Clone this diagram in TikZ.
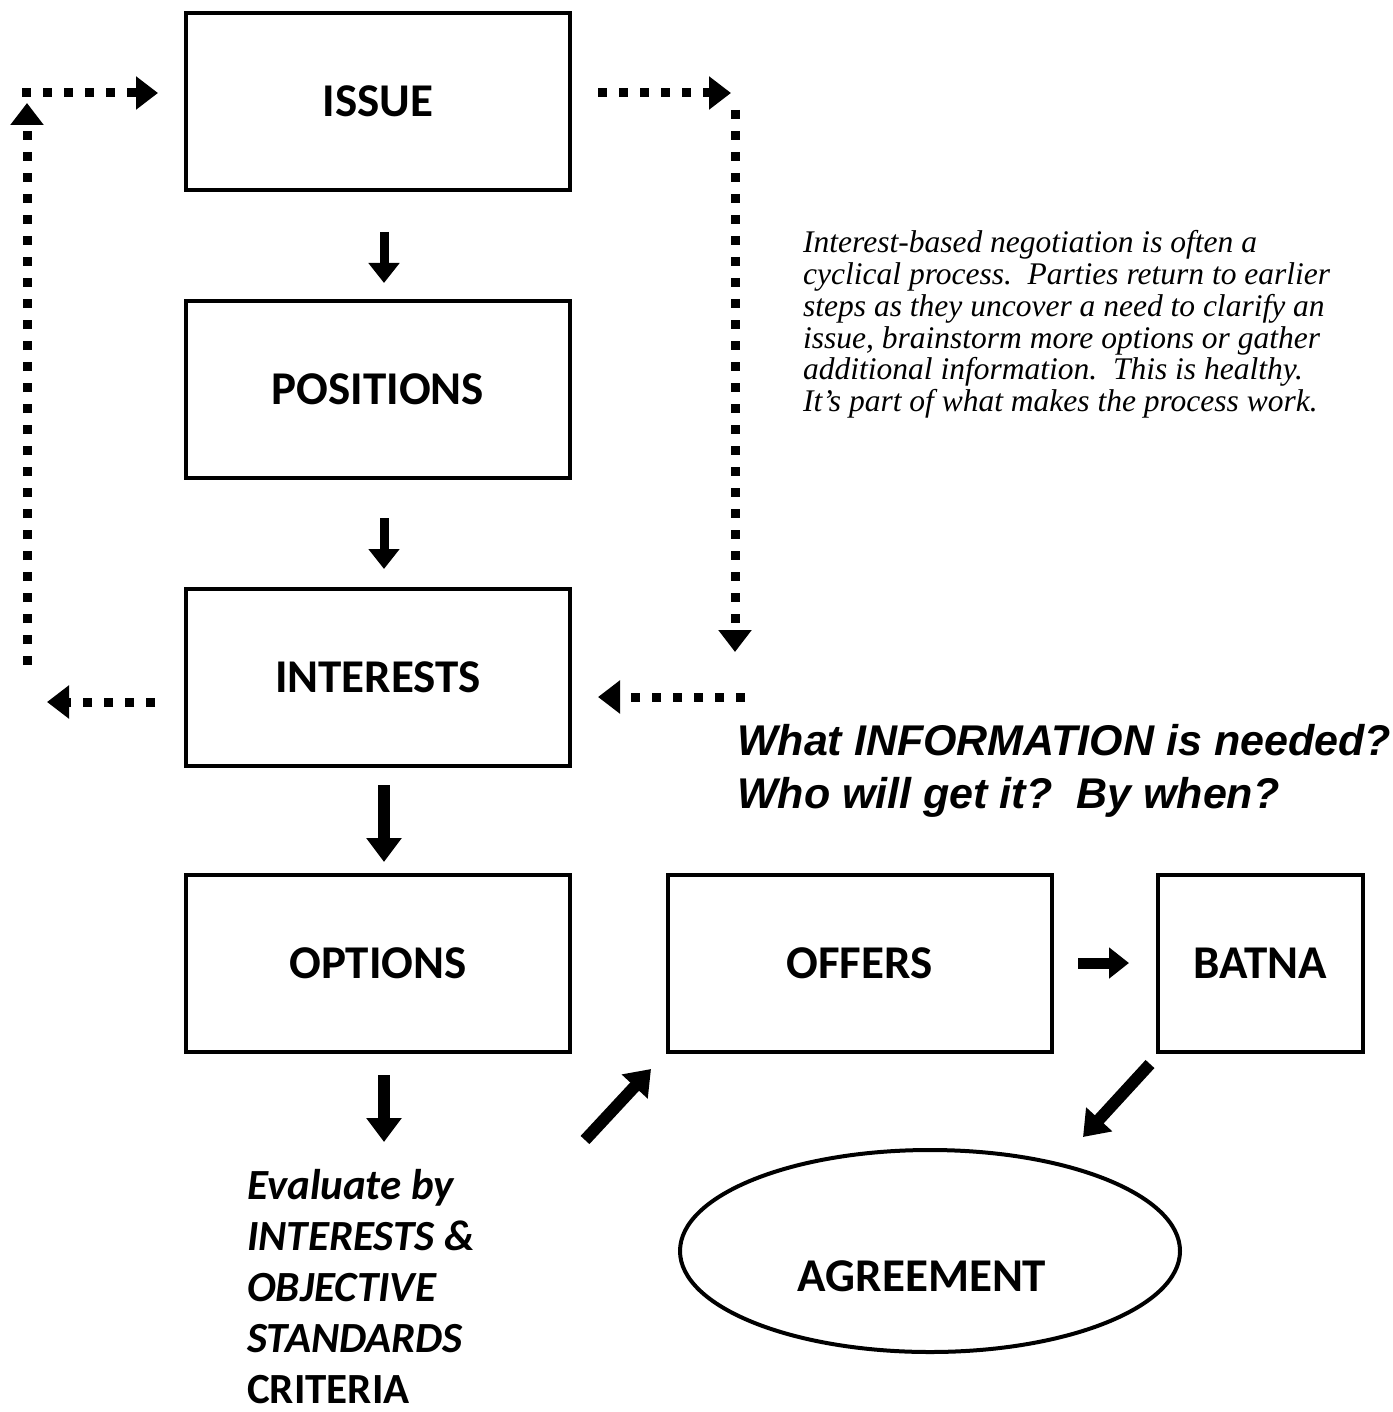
\documentclass[tikz,border=0pt]{standalone}
\usepackage{fontspec}
\setmainfont{Liberation Serif}
\newfontfamily\boxfont{Carlito}
\newfontfamily\headfont{Liberation Sans}
\usetikzlibrary{arrows.meta,shapes.geometric}
\begin{document}
\begin{tikzpicture}[x=1pt,y=-1pt,
  boxtext/.style={font=\boxfont\bfseries\fontsize{47}{56}\selectfont},
  stepbox/.style={draw,line width=4pt,minimum width=384pt,minimum height=177pt,inner sep=0pt,boxtext},
  flow/.style={line width=9pt,-{Triangle[width=30pt,length=20pt]}},
  bigflow/.style={line width=12pt,-{Triangle[width=34pt,length=24pt]}},
  loop/.style={line width=9pt,dash pattern=on 9pt off 12pt,-{Triangle[width=32pt,length=22pt]}}]
\useasboundingbox (0,0) rectangle (1392,1412);

% main column of steps
\node[stepbox] (issue) at (378,101.5) {ISSUE};
\node[stepbox] (positions) at (378,389.5) {POSITIONS};
\node[stepbox] (interests) at (378,677.5) {INTERESTS};
\node[stepbox] (options) at (378,963.5) {OPTIONS};
\node[stepbox] (offers) at (859.5,963.5) {OFFERS};
\node[stepbox,minimum width=205pt] (batna) at (1260.5,963.5) {BATNA};
\node[draw,line width=4pt,ellipse,minimum width=500pt,minimum height=202pt,inner sep=0pt] (agreement) at (930,1251) {};
\node[boxtext,inner sep=0pt] (agreementlabel) at (922,1276) {AGREEMENT};

% evaluation note under the options
\node[anchor=north west,align=left,inner sep=0pt,
  font=\boxfont\bfseries\fontsize{43}{51}\selectfont] (evaluate) at (247,1169)
  {\itshape Evaluate by\\ \itshape INTERESTS \&\\ \itshape OBJECTIVE\\ \itshape STANDARDS\\ CRITERIA};

% solid arrows between steps
\coordinate (a1s) at (384,232); \coordinate (a1e) at (384,283);
\coordinate (a2s) at (384,518); \coordinate (a2e) at (384,569);
\coordinate (a3s) at (384,785); \coordinate (a3e) at (384,862);
\coordinate (a4s) at (384,1075); \coordinate (a4e) at (384,1142);
\coordinate (a5s) at (1078,963); \coordinate (a5e) at (1129,963);
\coordinate (a6s) at (585,1140); \coordinate (a6e) at (651,1069);
\coordinate (a7s) at (1150,1064); \coordinate (a7e) at (1083,1137);
\draw[flow] (a1s) -- (a1e);
\draw[flow] (a2s) -- (a2e);
\draw[bigflow] (a3s) -- (a3e);
\draw[bigflow] (a4s) -- (a4e);
\draw[flow,line width=11pt] (a5s) -- (a5e);
\draw[bigflow] (a6s) -- (a6e);
\draw[bigflow] (a7s) -- (a7e);

% dotted return loops
\coordinate (l1) at (155,702); \coordinate (l2) at (47,702);
\coordinate (l3) at (27,665); \coordinate (l4) at (27,103);
\coordinate (l5) at (22,93); \coordinate (l6) at (158,93);
\draw[loop] (l1) -- (l2);
\draw[loop] (l3) -- (l4);
\draw[loop] (l5) -- (l6);
\coordinate (r1) at (598,93); \coordinate (r2) at (731,93);
\coordinate (r3) at (735,110); \coordinate (r4) at (735,652);
\coordinate (r5) at (745,697); \coordinate (r6) at (598,697);
\draw[loop] (r1) -- (r2);
\draw[loop] (r3) -- (r4);
\draw[loop] (r5) -- (r6);

% commentary
\node[anchor=north west,align=left,inner sep=0pt,
  font=\itshape\fontsize{31.5}{31.9}\selectfont] (para) at (803,230)
  {Interest-based negotiation is often a\\
   cyclical process.\ \ Parties return to earlier\\
   steps as they uncover a need to clarify an\\
   issue, brainstorm more options or gather\\
   additional information.\ \ This is healthy.\\
   It’s part of what makes the process work.};
\node[anchor=north west,align=left,inner sep=0pt,
  font=\headfont\bfseries\itshape\fontsize{43}{53}\selectfont] (info) at (737,724)
  {What INFORMATION is needed?\\ Who will get it?\ \ By when?};
\end{tikzpicture}
\end{document}
